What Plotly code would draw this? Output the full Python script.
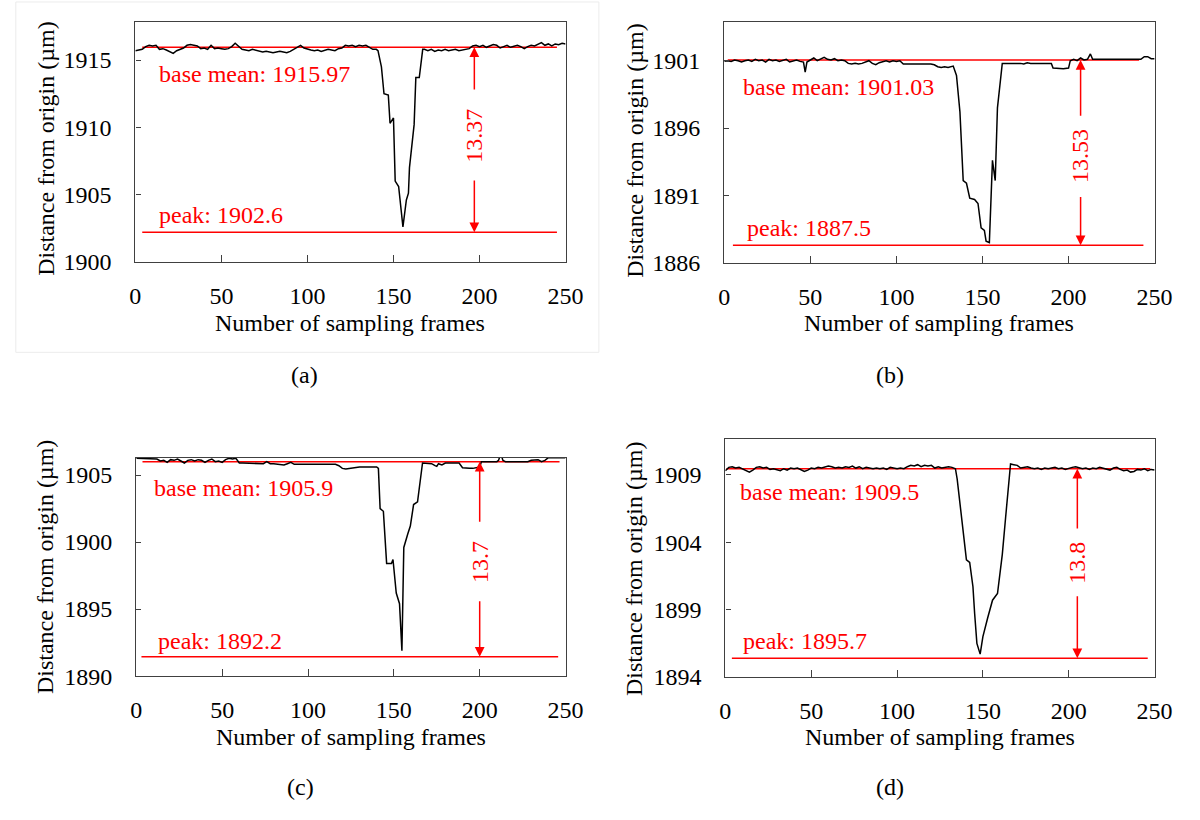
import plotly.graph_objects as go

# ---------------- data ----------------
frames_a = [0,2,4,6,8,10,12,14,16,18,20,22,24,26,28,30,32,34,36,38,40,42,44,46,48,50,52,54,56,58,60,62,64,66,68,70,72,74,76,78,80,82,84,86,88,90,92,94,96,98,100,102,104,106,108,110,112,114,116,118,120,122,124,126,128,130,132,134,136,138,140,
            141,143,144.5,147,148,150,151,153,154,155.5,157.5,158.7,159.3,162,163,165,167,
            168,170,172,174,176,178,180,182,184,186,188,190,192,194,196,198,200,202,204,206,208,210,212,214,216,218,220,222,224,226,228,230,232,234,236,238,240,242,244,246,248,250]
dist_a = [1915.7,1915.75,1915.8,1916.0,1916.1,1916.05,1916.1,1915.8,1915.85,1915.75,1915.6,1915.5,1915.7,1915.8,1915.9,1916.1,1916.15,1916.1,1916.05,1915.85,1915.9,1915.8,1916.1,1915.85,1915.9,1915.85,1915.8,1915.85,1916.0,1916.25,1916.0,1915.8,1915.75,1915.7,1915.8,1915.75,1915.7,1915.6,1915.65,1915.6,1915.55,1915.6,1915.65,1915.6,1915.55,1915.65,1915.8,1915.9,1916.1,1915.9,1915.8,1915.75,1915.7,1915.75,1915.65,1915.7,1915.8,1915.75,1915.7,1915.85,1915.9,1916.1,1916.05,1916.1,1916.0,1916.1,1916.05,1916.1,1915.95,1915.8,1915.8,
          1915.7,1914.5,1912.5,1912.4,1910.3,1910.7,1906.0,1905.6,1904.5,1902.6,1904.6,1905.1,1907.0,1910.2,1913.7,1913.7,1915.8,
          1915.8,1915.7,1915.8,1915.65,1915.75,1915.7,1915.8,1915.7,1915.75,1915.8,1915.7,1915.75,1915.8,1915.85,1916.05,1916.1,1916.0,1916.1,1915.95,1916.05,1916.15,1916.1,1915.9,1916.0,1916.1,1915.95,1916.05,1916.1,1916.0,1915.85,1916.0,1916.1,1916.05,1916.15,1916.3,1916.1,1916.2,1916.05,1916.2,1916.15,1916.25,1916.2]

frames_b = [0,2,4,6,8,10,12,14,16,18,20,22,24,26,28,30,32,34,36,38,40,42,44,46,47,48,50,52,54,56,58,60,62,64,66,68,70,72,74,76,78,80,82,84,86,88,90,92,94,96,98,100,102,104,106,108,110,112,114,116,118,120,122,124,126,128,130,132,133,
            134.9,136.9,138.8,140.7,142.6,145.4,147.4,149.2,151.1,152.1,154,155.8,157.4,158.7,161.5,
            164,166,168,170,172,174,176,178,180,182,184,186,188,190,191,194,197,200,201,203,205,207,209,211,212.7,214,216,218,220,222,224,226,228,230,232,234,236,238,240,242,244,246,248,250]
dist_b = [1900.95,1901.0,1900.95,1901.05,1901.0,1900.9,1901.0,1901.05,1900.95,1901.1,1901.0,1901.05,1900.9,1901.1,1901.0,1901.05,1900.95,1901.0,1901.1,1900.9,1901.0,1901.05,1900.95,1900.9,1900.15,1900.9,1901.05,1901.2,1901.0,1901.1,1901.25,1901.1,1901.05,1901.15,1901.0,1901.05,1901.0,1900.8,1900.75,1900.8,1900.75,1900.8,1900.9,1901.0,1900.8,1900.7,1900.85,1900.95,1901.0,1900.9,1901.0,1900.95,1901.0,1900.75,1900.75,1900.8,1900.75,1900.75,1900.8,1900.75,1900.8,1900.75,1900.7,1900.55,1900.5,1900.55,1900.5,1900.55,1900.6,
          1899.9,1897.2,1892.1,1891.9,1890.8,1890.7,1890.4,1888.6,1888.4,1887.6,1887.5,1893.6,1892.1,1897.5,1900.8,
          1900.8,1900.85,1900.8,1900.85,1900.8,1900.75,1900.85,1900.8,1900.8,1900.85,1900.8,1900.8,1900.85,1900.8,1900.45,1900.4,1900.4,1900.45,1901.0,1901.1,1901.0,1901.2,1901.05,1901.1,1901.5,1901.1,1901.1,1901.05,1901.1,1901.05,1901.1,1901.05,1901.1,1901.1,1901.05,1901.1,1901.05,1901.1,1901.05,1901.1,1901.3,1901.3,1901.15,1901.15]

frames_c = [0,2,4,6,8,10,12,14,16,18,20,22,24,26,28,30,32,34,36,38,40,42,44,46,48,50,52,54,56,58,60,62,64,66,68,70,72,74,76,78,80,82,84,86,88,90,92,94,96,98,100,102,104,106,108,110,112,114,116,118,120,122,124,126,128,130,132,134,136,138,140,
            141,142,143.9,145.8,148.6,149.5,151.4,153.3,154.7,155.8,158.1,159.6,161.5,163.8,166.7,
            168,170,172,174,175,176,178,180,182,184,186,188,190,192,194,196,198,200,201,204,206,208,210,211,212.3,213.5,215,218,220,222,224,226,228,230,232,234,236,238,240,242,244,246,248,250]
dist_c = [1906.25,1906.25,1906.25,1906.25,1906.25,1906.25,1906.2,1906.05,1906.1,1905.95,1906.15,1906.1,1906.2,1906.05,1905.9,1906.1,1906.15,1906.05,1906.15,1906.1,1905.95,1906.1,1906.2,1906.0,1906.05,1905.95,1906.15,1906.25,1906.2,1906.25,1905.9,1905.9,1905.9,1905.85,1905.9,1905.85,1905.9,1905.85,1906.0,1905.85,1905.85,1905.8,1905.8,1905.75,1905.85,1905.95,1905.8,1905.8,1905.75,1905.8,1905.8,1905.75,1905.8,1905.75,1905.8,1905.8,1905.75,1905.8,1905.8,1905.7,1905.5,1905.45,1905.5,1905.5,1905.6,1905.6,1905.6,1905.6,1905.6,1905.6,1905.6,
          1905.5,1902.5,1902.3,1898.4,1898.4,1898.7,1896.2,1895.4,1891.9,1899.6,1900.6,1901.2,1902.8,1903.0,1905.9,
          1905.9,1905.9,1905.85,1905.7,1905.65,1905.85,1905.75,1905.9,1905.9,1905.85,1905.9,1905.9,1905.55,1905.5,1905.5,1905.5,1905.55,1905.6,1906.0,1906.0,1906.0,1906.05,1906.0,1906.1,1906.6,1906.1,1906.0,1906.0,1906.0,1905.95,1906.0,1906.0,1906.0,1906.1,1906.1,1906.15,1906.0,1906.1,1906.3,1906.3,1906.3,1906.3,1906.3,1906.3]

frames_d = [0,2,4,6,8,10,12,14,16,18,20,22,24,26,28,30,32,34,36,38,40,42,44,46,48,50,52,54,56,58,60,62,64,66,68,70,72,74,76,78,80,82,84,86,88,90,92,94,96,98,100,102,104,106,108,110,112,114,116,118,120,122,124,126,128,130,132,134,
            135,137.6,140.4,142.3,144.2,145.2,146.5,148.4,150,152.8,155.6,158.5,159.4,161.3,163.2,164.2,165.1,166.1,
            168,170,172,174,176,178,180,182,184,186,188,190,192,194,196,198,200,202,204,206,208,210,212,214,216,218,220,222,224,226,228,230,232,234,236,238,240,242,244,246,248,250]
dist_d = [1909.3,1909.55,1909.6,1909.5,1909.55,1909.45,1909.3,1909.2,1909.35,1909.55,1909.6,1909.5,1909.55,1909.4,1909.45,1909.35,1909.3,1909.45,1909.35,1909.5,1909.45,1909.5,1909.35,1909.25,1909.35,1909.5,1909.45,1909.55,1909.5,1909.6,1909.65,1909.6,1909.5,1909.55,1909.5,1909.6,1909.55,1909.65,1909.5,1909.6,1909.45,1909.55,1909.5,1909.45,1909.5,1909.45,1909.5,1909.4,1909.55,1909.5,1909.45,1909.5,1909.45,1909.6,1909.7,1909.65,1909.75,1909.6,1909.7,1909.65,1909.7,1909.5,1909.6,1909.5,1909.55,1909.6,1909.55,1909.45,
          1908.7,1905.7,1902.7,1902.5,1900.7,1898.7,1896.5,1895.7,1897.0,1898.4,1899.7,1900.2,1901.2,1903.1,1905.8,1907.0,1908.5,1909.8,
          1909.75,1909.7,1909.5,1909.55,1909.6,1909.5,1909.45,1909.5,1909.4,1909.5,1909.45,1909.5,1909.55,1909.45,1909.5,1909.4,1909.5,1909.55,1909.6,1909.5,1909.45,1909.5,1909.4,1909.5,1909.45,1909.55,1909.5,1909.45,1909.35,1909.5,1909.55,1909.4,1909.3,1909.35,1909.2,1909.25,1909.4,1909.35,1909.45,1909.3,1909.4,1909.35]

panel_letters = ["(a)", "(b)", "(c)", "(d)"]
base_labels = ["base mean: 1915.97", "base mean: 1901.03", "base mean: 1905.9", "base mean: 1909.5"]
peak_labels = ["peak: 1902.6", "peak: 1887.5", "peak: 1892.2", "peak: 1895.7"]
diff_labels = ["13.37", "13.53", "13.7", "13.8"]
base_level = [1915.95, 1901.05, 1906.0, 1909.45]
peak_level = [1902.2, 1887.3, 1891.45, 1895.4]
line_start = [4, 2, 3.6, 0.6]
line_end = [245, 241, 246.5, 247.5]
peak_start = [4, 5, 3, 3.8]
peak_end = [245, 243.5, 245.7, 246]
arrow_x = [197, 207, 200, 205]
gap_top = [1912.7, 1896.8, 1901.4, 1904.9]
gap_bottom = [1906.15, 1891.0, 1895.7, 1900.1]
diff_y = [1909.4, 1893.9, 1898.5, 1902.5]
base_text_pos = [(12.5, 1913.98), (9.8, 1899.06), (9.2, 1904.04), (7.4, 1907.7)]
peak_text_pos = [(12.5, 1903.5), (12.3, 1888.58), (11.2, 1892.6), (9.3, 1896.65)]
y_ranges = [[1900, 1917.86], [1886, 1903.9], [1890, 1906.3], [1894, 1911.66]]
y_ticks = [[1900, 1905, 1910, 1915], [1886, 1891, 1896, 1901], [1890, 1895, 1900, 1905], [1894, 1899, 1904, 1909]]
x_ticks = [0, 50, 100, 150, 200, 250]

frames = [frames_a, frames_b, frames_c, frames_d]
dists = [dist_a, dist_b, dist_c, dist_d]

# ---------------- layout geometry ----------------
W, H = 1200, 820
FONT = "'Liberation Serif', 'Times New Roman', 'DejaVu Serif', serif"
x_domains = [[0.110, 0.4758], [0.6108, 0.9767], [0.1108, 0.4758], [0.6117, 0.9767]]
y_domains = [[0.6756, 0.9732], [0.6744, 0.9732], [0.1622, 0.4329], [0.161, 0.4561]]

fig = go.Figure()
RED = "#ff0000"
annotations = []
layout = {}

for i in range(4):
    n = "" if i == 0 else str(i + 1)
    xr, yr = "x" + n, "y" + n
    fig.add_trace(go.Scatter(x=[line_start[i], line_end[i]], y=[base_level[i]] * 2, mode="lines",
                             line=dict(color=RED, width=1.5), xaxis=xr, yaxis=yr, showlegend=False))
    fig.add_trace(go.Scatter(x=[peak_start[i], peak_end[i]], y=[peak_level[i]] * 2, mode="lines",
                             line=dict(color=RED, width=1.5), xaxis=xr, yaxis=yr, showlegend=False))
    fig.add_trace(go.Scatter(x=frames[i], y=dists[i], mode="lines",
                             line=dict(color="black", width=1.5), xaxis=xr, yaxis=yr, showlegend=False))
    layout["xaxis" + n] = dict(domain=x_domains[i], anchor=yr, range=[0, 250], tickvals=x_ticks,
                               ticks="inside", ticklen=7, tickcolor="#404040", showline=True, mirror=True,
                               linecolor="#404040", linewidth=1.3, showgrid=False, zeroline=False,
                               tickfont=dict(family=FONT, size=24, color="black"), ticklabelstandoff=12)
    layout["yaxis" + n] = dict(domain=y_domains[i], anchor=xr, range=y_ranges[i], tickvals=y_ticks[i],
                               ticks="inside", ticklen=5, tickcolor="#404040", showline=True, mirror=True,
                               linecolor="#404040", linewidth=1.3, showgrid=False, zeroline=False,
                               tickfont=dict(family=FONT, size=24, color="black"), ticklabelstandoff=18)
    # arrows
    annotations.append(dict(x=arrow_x[i], y=base_level[i], ax=arrow_x[i], ay=gap_top[i], xref=xr, yref=yr,
                            axref=xr, ayref=yr, text="", showarrow=True, arrowhead=2, arrowsize=1.3,
                            arrowwidth=1.5, arrowcolor=RED))
    annotations.append(dict(x=arrow_x[i], y=peak_level[i], ax=arrow_x[i], ay=gap_bottom[i], xref=xr, yref=yr,
                            axref=xr, ayref=yr, text="", showarrow=True, arrowhead=2, arrowsize=1.3,
                            arrowwidth=1.5, arrowcolor=RED))
    annotations.append(dict(x=arrow_x[i], y=diff_y[i], xref=xr, yref=yr, text=diff_labels[i], textangle=-90,
                            xanchor="center", yanchor="middle",
                            showarrow=False, font=dict(family=FONT, size=24, color=RED)))
    annotations.append(dict(x=base_text_pos[i][0], y=base_text_pos[i][1], xref=xr, yref=yr, text=base_labels[i],
                            xanchor="left", yanchor="middle", showarrow=False,
                            font=dict(family=FONT, size=24, color=RED)))
    annotations.append(dict(x=peak_text_pos[i][0], y=peak_text_pos[i][1], xref=xr, yref=yr, text=peak_labels[i],
                            xanchor="left", yanchor="middle", showarrow=False,
                            font=dict(family=FONT, size=24, color=RED)))

# axis titles and panel letters (paper coordinates)
xtitle_pos = [(351, 328), (952, 328), (352, 749), (953, 749)]
ytitle_pos = [(40, 151), (641, 153), (40, 576), (641, 578)]
letter_pos = [(305, 381), (902, 381), (300, 800), (902, 800)]
for i in range(4):
    annotations.append(dict(x=xtitle_pos[i][0] / W, y=1 - xtitle_pos[i][1] / H, xref="paper", yref="paper",
                            xanchor="center", yanchor="middle",
                            text="Number of sampling frames", showarrow=False,
                            font=dict(family=FONT, size=24, color="black")))
    annotations.append(dict(x=ytitle_pos[i][0] / W, y=1 - ytitle_pos[i][1] / H, xref="paper", yref="paper",
                            xanchor="center", yanchor="middle",
                            text="Distance from origin (µm)", textangle=-90, showarrow=False,
                            font=dict(family=FONT, size=24, color="black")))
    annotations.append(dict(x=letter_pos[i][0] / W, y=1 - letter_pos[i][1] / H, xref="paper", yref="paper",
                            xanchor="center", yanchor="middle",
                            text=panel_letters[i], showarrow=False,
                            font=dict(family=FONT, size=24, color="black")))

fig.update_layout(**layout)
fig.update_layout(width=W, height=H, margin=dict(l=0, r=0, t=0, b=0), plot_bgcolor="white",
                  paper_bgcolor="white", annotations=annotations, showlegend=False,
                  font=dict(family=FONT),
                  shapes=[dict(type="rect", xref="paper", yref="paper", x0=10 / W, x1=605 / W,
                               y0=1 - 358 / H, y1=1 - 2 / H, line=dict(color="#ececec", width=1),
                               layer="below")])
fig.write_html("out.html")
